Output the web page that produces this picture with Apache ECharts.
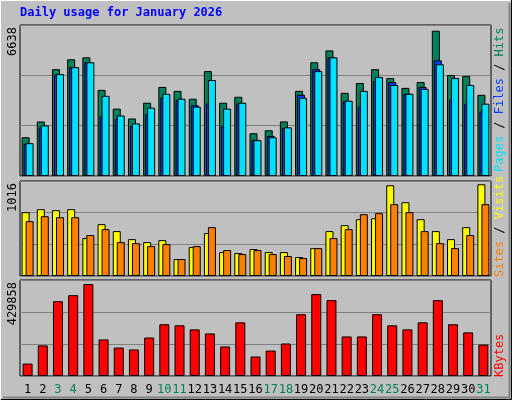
<!DOCTYPE html>
<html><head><meta charset="utf-8">
<script src="https://cdn.jsdelivr.net/npm/echarts@6/dist/echarts.min.js"></script>
<style>html,body{margin:0;padding:0;background:#c0c0c0}#c{width:512px;height:400px}</style>
</head><body><div id="c"></div>
<script>
const days = ['1','2','3','4','5','6','7','8','9','10','11','12','13','14','15','16','17','18','19','20','21','22','23','24','25','26','27','28','29','30','31'];
const weekend = ['3','4','10','11','17','18','24','25','31'];
const hits  = [1772,2493,4881,5332,5422,3935,3079,2628,3349,4070,3890,3530,4791,3349,3620,1953,2088,2493,3890,5197,5738,3800,4251,4881,4476,4025,4296,6638,4611,4566,3710];
const files = [1470,2223,4626,4972,5197,2718,2598,2283,2824,3590,3455,3229,3319,2283,3319,1652,1832,2193,3710,4881,5422,3410,3169,4341,4296,3755,4070,5287,3485,3304,2944];
const pages = [1500,2313,4656,4972,5197,3665,2764,2403,3124,3755,3530,3169,4386,3079,3349,1637,1772,2223,3575,4791,5422,3440,3890,4521,4161,3755,3980,5107,4476,4161,3304];
const visits = [707,740,729,740,420,574,497,408,375,397,188,320,475,265,254,298,265,265,210,309,497,563,629,640,1005,817,629,497,408,541,1016];
const sites  = [607,662,651,651,453,519,375,364,331,353,188,331,541,287,243,287,243,221,199,309,420,519,684,696,795,707,497,364,309,453,795];
const kbytes = [58000,143000,350000,378000,429858,171000,133000,124000,180000,242000,237000,218000,199000,138000,251000,91000,119000,152000,289000,383000,355000,185000,185000,289000,237000,218000,251000,355000,242000,204000,147000];
const maxLabels = ['6638','1016','429858'];
const title = 'Daily usage for January 2026';

const mono = 'DejaVu Sans Mono';
const ch = echarts.init(document.getElementById('c'));
const grids = [
  {left:20,right:21,top:25,height:151},
  {left:20,right:21,top:181,height:95},
  {left:20,right:21,top:280,height:96}
].map(g=>Object.assign(g,{show:true,backgroundColor:'#c0c0c0',borderColor:'#000',borderWidth:1}));
const ymax=[6900,1052,449000];
const bs = c=>({color:c,borderColor:'#000',borderWidth:1});
ch.setOption({
  backgroundColor:'#c0c0c0',
  animation:false,
  grid:grids,
  xAxis:[0,1,2].map(i=>({type:'category',gridIndex:i,data:days,axisLine:{show:false},axisTick:{show:false},
    axisLabel:{show:i===2,interval:0,margin:8,fontFamily:mono,fontSize:12,
      color:(v)=>weekend.includes(v)?'#00805c':'#000'}})),
  yAxis:[0,1,2].map(i=>({type:'value',gridIndex:i,min:0,max:ymax[i],interval:ymax[i]/3,axisLabel:{show:false},
    axisLine:{show:false},axisTick:{show:false},splitLine:{lineStyle:{color:'#808080',width:1}}})),
  series:[
    {type:'bar',xAxisIndex:0,yAxisIndex:0,data:hits,barWidth:8,barGap:'-75%',itemStyle:bs('#00805c')},
    {type:'bar',xAxisIndex:0,yAxisIndex:0,data:files,barWidth:8,barGap:'-75%',itemStyle:bs('#0040ff')},
    {type:'bar',xAxisIndex:0,yAxisIndex:0,data:pages,barWidth:8,barGap:'-75%',itemStyle:bs('#00e0ff')},
    {type:'bar',xAxisIndex:1,yAxisIndex:1,data:visits,barWidth:8,barGap:'-50%',itemStyle:bs('#ffff00')},
    {type:'bar',xAxisIndex:1,yAxisIndex:1,data:sites,barWidth:8,barGap:'-50%',itemStyle:bs('#ff8000')},
    {type:'bar',xAxisIndex:2,yAxisIndex:2,data:kbytes,barWidth:10,itemStyle:bs('#ff0000')}
  ],
  graphic:[
    {type:'polyline',shape:{points:[[0.5,399],[0.5,0.5],[511,0.5]]},style:{stroke:'#fff',lineWidth:1,fill:null}},
    {type:'polyline',shape:{points:[[1,399.5],[511.5,399.5],[511.5,0]]},style:{stroke:'#000',lineWidth:1,fill:null}},
    {type:'polyline',shape:{points:[[3,397.5],[509.5,397.5],[509.5,3]]},style:{stroke:'#808080',lineWidth:2,fill:null}},
    {type:'text',left:20,top:7,style:{text:title,font:'bold 12px "DejaVu Sans Mono"',fill:'#0000ff'}},
    {type:'text',x:7,y:27,rotation:Math.PI/2,style:{text:maxLabels[0],font:'12px "DejaVu Sans Mono"',fill:'#000',align:'right',verticalAlign:'top'}},
    {type:'text',x:7,y:183,rotation:Math.PI/2,style:{text:maxLabels[1],font:'12px "DejaVu Sans Mono"',fill:'#000',align:'right',verticalAlign:'top'}},
    {type:'text',x:7,y:282,rotation:Math.PI/2,style:{text:maxLabels[2],font:'12px "DejaVu Sans Mono"',fill:'#000',align:'right',verticalAlign:'top'}},
    {type:'text',x:494,y:172,rotation:Math.PI/2,style:{text:'{p|Pages}{s| / }{f|Files}{s| / }{h|Hits}',font:'12px "DejaVu Sans Mono"',align:'left',verticalAlign:'top',
      rich:{p:{fill:'#00e0ff'},s:{fill:'#000'},f:{fill:'#0040ff'},h:{fill:'#00805c'}}}},
    {type:'text',x:494,y:277,rotation:Math.PI/2,style:{text:'{o|Sites}{s| / }{y|Visits}',font:'12px "DejaVu Sans Mono"',align:'left',verticalAlign:'top',
      rich:{o:{fill:'#ff8000'},s:{fill:'#000'},y:{fill:'#ffff00'}}}},
    {type:'text',x:494,y:377,rotation:Math.PI/2,style:{text:'KBytes',font:'12px "DejaVu Sans Mono"',fill:'#ff0000',align:'left',verticalAlign:'top'}}
  ]
});
</script></body></html>
